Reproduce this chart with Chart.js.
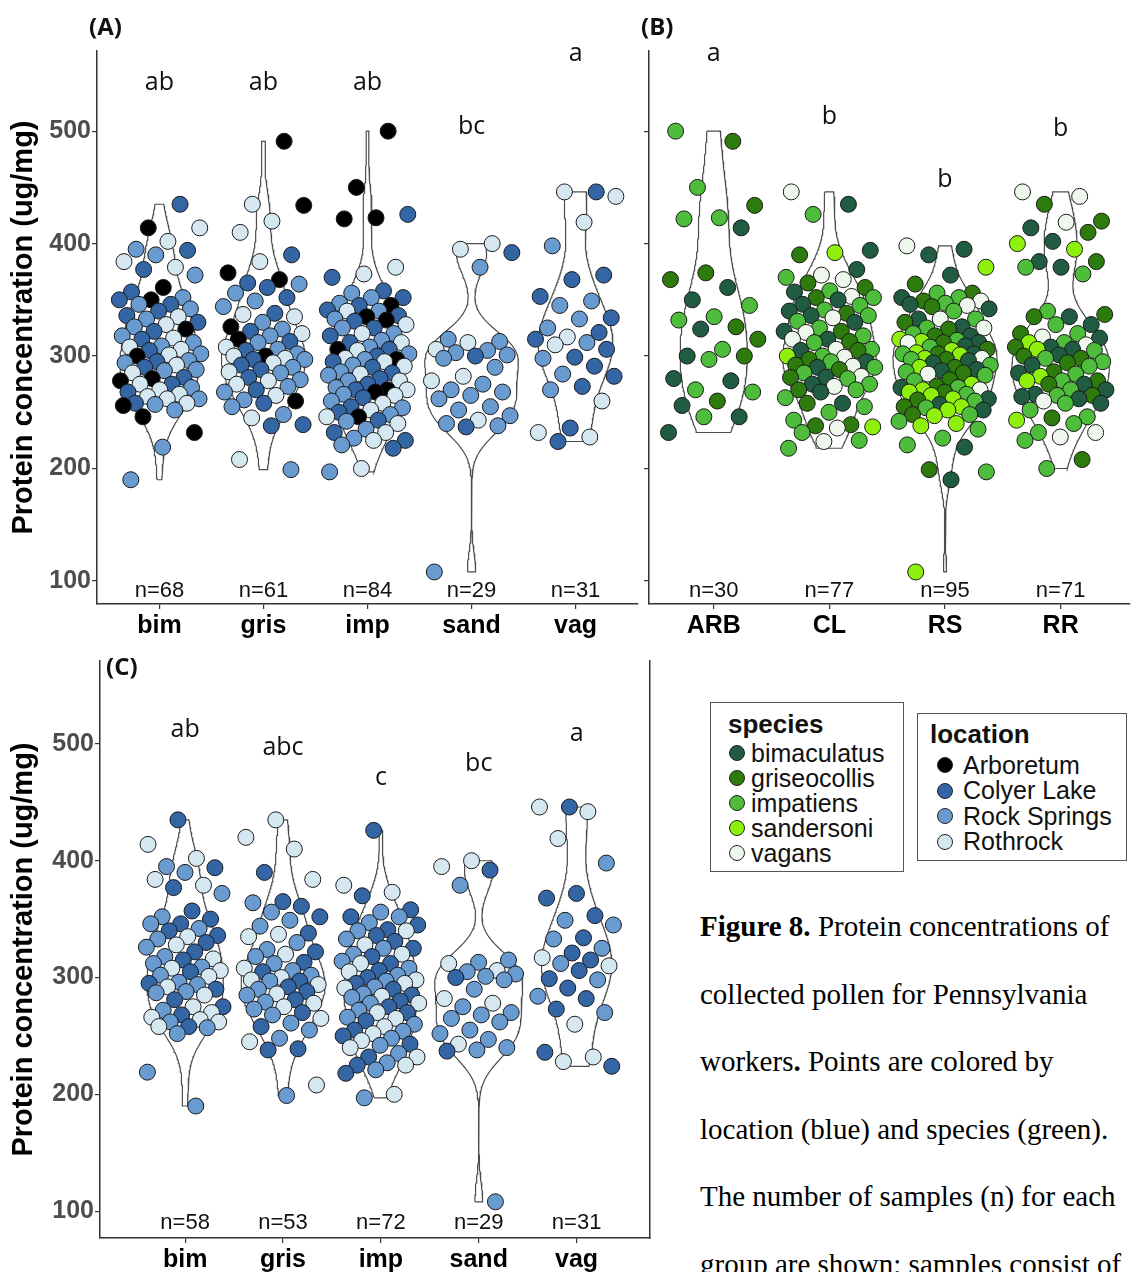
<!DOCTYPE html>
<html>
<head>
<meta charset="utf-8">
<title>Protein concentration of collected pollen</title>
<script src="https://cdn.jsdelivr.net/npm/chart.js@4.4.1/dist/chart.umd.min.js"></script>
<style>
  html, body { margin: 0; padding: 0; background: #fff; overflow: hidden; }
  body { width: 1139px; height: 1272px; position: relative; font-family: "Liberation Sans", Arial, sans-serif; }
  canvas { position: absolute; display: block; }
  .key { position: absolute; border: 1.5px solid #555; background: #fff; color: #111; }
  .key .title { position: absolute; font-weight: bold; font-size: 26px; line-height: 30px; }
  .key .row { position: absolute; font-size: 25px; line-height: 25px; white-space: nowrap; }
  .key .dot { position: absolute; width: 16px; height: 16px; border-radius: 50%; border: 1px solid #222; box-sizing: border-box; }
  #caption { position: absolute; left: 700px; top: 893px; font-family: "Liberation Serif", "Times New Roman", serif;
             font-size: 29px; line-height: 67.6px; white-space: nowrap; color: #000; }
</style>
</head>
<body>
<canvas id="panelA" width="647" height="645" style="left:0;top:0"></canvas>
<canvas id="panelB" width="499" height="645" style="left:640px;top:0"></canvas>
<canvas id="panelC" width="660" height="627" style="left:0;top:645px"></canvas>
<div id="speciesKey" class="key" style="left:710px;top:702px;width:192px;height:168px"></div>
<div id="siteKey" class="key" style="left:917px;top:713px;width:208px;height:146px"></div>
<div id="caption"><b>Figure 8.</b> Protein concentrations of<br>collected pollen for Pennsylvania<br>workers<b>.</b> Points are colored by<br>location (blue) and species (green).<br>The number of samples (n) for each<br>group are shown; samples consist of</div>

<script>
const speciesCodes = ['bim', 'gris', 'imp', 'sand', 'vag'];
const speciesNames = ['bimaculatus', 'griseocollis', 'impatiens', 'sandersoni', 'vagans'];
const speciesColors = ['#1f5c42', '#2e7b0d', '#4dbd3b', '#8ef00c', '#eef7ec'];
const siteCodes = ['ARB', 'CL', 'RS', 'RR'];
const siteNames = ['Arboretum', 'Colyer Lake', 'Rock Springs', 'Rothrock'];
const siteColors = ['#000000', '#3465a4', '#6a9bd0', '#d5e8f2'];

// protein (ug/mg) of each pollen load, by species and collection site
const bimARB = [414, 361, 350, 324, 300, 280, 278, 256, 246, 232];
const bimCL = [435, 394, 377, 357, 350, 346, 340, 336, 330, 322, 315, 305, 295, 290, 281, 275, 268, 258];
const bimRS = [395, 390, 372, 352, 346, 342, 333, 326, 318, 312, 309, 302, 296, 294, 288, 287, 272, 262, 257, 252, 219, 190];
const bimRR = [414, 402, 384, 379, 335, 328, 316, 308, 306, 301, 292, 285, 275, 270, 266, 264, 262, 258];

const grisARB = [491, 434, 374, 368, 326, 315, 300, 260];
const grisCL = [390, 365, 361, 352, 338, 322, 313, 305, 297, 292, 288, 281, 270, 258, 239, 238];
const grisRS = [364, 356, 349, 344, 330, 324, 318, 312, 306, 302, 297, 290, 285, 279, 273, 268, 261, 255, 248, 199];
const grisRR = [435, 420, 410, 384, 337, 335, 320, 308, 300, 298, 294, 286, 278, 275, 265, 245, 208];

const impARB = [500, 450, 423, 422, 345, 335, 332, 306, 297, 270, 268, 246];
const impCL = [426, 370, 358, 352, 345, 341, 336, 331, 325, 318, 312, 306, 300, 295, 290, 285, 280, 275, 270, 263, 255, 250, 243, 232, 225, 218];
const impRS = [356, 352, 347, 340, 333, 325, 320, 314, 308, 302, 297, 292, 286, 283, 278, 272, 266, 260, 254, 248, 242, 235, 227, 221, 197];
const impRR = [379, 373, 340, 328, 320, 312, 305, 298, 295, 291, 284, 278, 270, 265, 258, 252, 246, 240, 232, 225, 200];

const sandARB = [];
const sandCL = [392, 300, 237];
const sandRS = [379, 315, 313, 305, 303, 301, 298, 290, 275, 270, 268, 265, 262, 255, 252, 247, 240, 238, 108];
const sandRR = [400, 395, 312, 306, 282, 278, 243];

const vagARB = [];
const vagCL = [446, 372, 368, 353, 334, 321, 315, 306, 299, 291, 282, 273, 236, 224];
const vagRS = [398, 349, 345, 333, 325, 312, 298, 284, 270];
const vagRR = [446, 442, 419, 317, 310, 260, 232, 228];

// compact letter display from the pairwise tests, and the height they sit at
const lettersA = ['ab', 'ab', 'ab', 'bc', 'a'];
const lettersB = ['a', 'b', 'b', 'b'];
const lettersC = ['ab', 'abc', 'c', 'bc', 'a'];
const letterHeightA = [543, 543, 543, 504, 569];
const letterHeightB = [569, 513, 457, 502];
const letterHeightC = [512, 497, 471, 483, 509];

const yTicks = [100, 200, 300, 400, 500];

const proteinBySpecies = [
  [bimARB, bimCL, bimRS, bimRR],
  [grisARB, grisCL, grisRS, grisRR],
  [impARB, impCL, impRS, impRR],
  [sandARB, sandCL, sandRS, sandRR],
  [vagARB, vagCL, vagRS, vagRR]
];

const samples = [];
proteinBySpecies.forEach((row, s) => row.forEach((vals, l) => vals.forEach(v => {
  samples.push({ species: s, site: l, value: v });
})));

Chart.defaults.font.family = '"Liberation Sans", Arial, sans-serif';

// gaussian kernel density, same bandwidth rule as R's bw.nrd0, trimmed to the data range
function quantile(sorted, p) {
  const h = (sorted.length - 1) * p, lo = Math.floor(h);
  const hi = Math.min(lo + 1, sorted.length - 1);
  return sorted[lo] + (h - lo) * (sorted[hi] - sorted[lo]);
}
function bandwidth(v) {
  const n = v.length;
  const mean = v.reduce((a, b) => a + b, 0) / n;
  const sd = Math.sqrt(v.reduce((a, b) => a + (b - mean) ** 2, 0) / (n - 1));
  const s = [...v].sort((a, b) => a - b);
  let lo = Math.min(sd, (quantile(s, 0.75) - quantile(s, 0.25)) / 1.34);
  if (!lo) lo = sd || 1;
  return 0.9 * lo * Math.pow(n, -0.2);
}
function density(v, steps) {
  const bw = bandwidth(v);
  const lo = Math.min(...v), hi = Math.max(...v);
  const out = [];
  for (let i = 0; i <= steps; i++) {
    const y = lo + (hi - lo) * i / steps;
    let d = 0;
    for (const x of v) {
      const z = (y - x) / bw;
      d += Math.exp(-0.5 * z * z);
    }
    out.push({ y, d: d / (v.length * bw * Math.sqrt(2 * Math.PI)) });
  }
  return out;
}

// spread points sideways within +-0.4 of the group centre
function jitter(k, seed) {
  const f = ((k + 1) * 0.6180339887 + seed) % 1;
  return (f - 0.5) * 0.8;
}

const groupText = {
  id: 'groupText',
  afterDatasetsDraw(chart, args, o) {
    const { ctx, scales: { x, y } } = chart;
    ctx.save();
    ctx.fillStyle = '#111';
    ctx.textAlign = 'center';
    ctx.textBaseline = 'middle';
    ctx.font = '25px "Open Sans", sans-serif';
    o.letters.forEach((t, i) => ctx.fillText(t, x.getPixelForValue(i + 1), y.getPixelForValue(o.letterY[i])));
    ctx.font = '22px "Liberation Sans", Arial, sans-serif';
    o.counts.forEach((n, i) => ctx.fillText('n=' + n, x.getPixelForValue(i + 1), y.getPixelForValue(o.countY)));
    ctx.textAlign = 'left';
    ctx.font = 'bold 24px "Open Sans", sans-serif';
    ctx.fillText(o.tag, o.tagX, o.tagY);
    ctx.restore();
  }
};

function buildPanel(id, groups, names, o) {
  const curves = groups.map(g => density(g.map(p => p.v), 160));
  const peak = Math.max(...curves.flat().map(p => p.d));
  const datasets = [];
  curves.forEach((curve, i) => {
    const c = i + 1;
    const left = curve.map(p => ({ x: c - 0.45 * p.d / peak, y: p.y }));
    const right = curve.slice().reverse().map(p => ({ x: c + 0.45 * p.d / peak, y: p.y }));
    datasets.push({
      data: [...left, ...right, left[0]],
      showLine: true, pointRadius: 0, borderColor: '#4d4d4d', borderWidth: 1.2,
      fill: false, tension: 0, order: 2
    });
  });
  const pts = [], fills = [];
  groups.forEach((g, i) => {
    [...g].sort((a, b) => b.v - a.v).forEach((p, k) => {
      pts.push({ x: i + 1 + jitter(k, o.seed), y: p.v });
      fills.push(p.color);
    });
  });
  datasets.push({
    data: pts, backgroundColor: fills, borderColor: '#1a1a1a', borderWidth: 1,
    pointRadius: 8, pointHoverRadius: 8, order: 1
  });

  const scales = {
    x: {
      type: 'linear', min: o.xMin, max: o.xMax,
      afterBuildTicks: s => { s.ticks = names.map((_, i) => ({ value: i + 1 })); },
      afterFit: s => { s.height = o.xHeight; },
      grid: { drawOnChartArea: false, tickLength: 5, color: '#333', lineWidth: 1.2 },
      border: { color: '#333', width: 1.5 },
      ticks: {
        callback: v => names[Math.round(v) - 1], color: '#000', padding: 2,
        font: { size: 25, weight: 'bold' }, maxRotation: 0, autoSkip: false
      }
    },
    y: {
      type: 'linear', min: o.yMin, max: o.yMax,
      afterBuildTicks: s => { s.ticks = yTicks.map(v => ({ value: v })); },
      afterFit: s => { s.width = o.yWidth; },
      grid: { drawOnChartArea: false, tickLength: 5, color: '#333', lineWidth: 1.2 },
      border: { color: '#333', width: 1.5 },
      ticks: { display: o.yLabels, color: '#4d4d4d', padding: 1, font: { size: 25, weight: 'bold' } },
      title: {
        display: o.yLabels, text: 'Protein concentration (ug/mg)', color: '#000',
        font: { size: 29, weight: 'bold' }, padding: { top: 7, bottom: 0 }
      }
    }
  };
  if (o.frame) {
    scales.y2 = {
      position: 'right', display: true,
      grid: { display: false }, ticks: { display: false },
      border: { color: '#333', width: 1.5 },
      afterFit: s => { s.width = 0; }
    };
  }

  return new Chart(document.getElementById(id), {
    type: 'scatter',
    data: { datasets },
    options: {
      responsive: false,
      animation: false,
      events: [],
      layout: { padding: o.padding },
      plugins: {
        legend: { display: false },
        tooltip: { enabled: false },
        groupText: {
          letters: o.letters, letterY: o.letterY,
          counts: groups.map(g => g.length), countY: o.countY,
          tag: o.tag, tagX: o.tagX, tagY: o.tagY
        }
      },
      scales
    },
    plugins: [groupText]
  });
}

// (A) species, coloured by site
const bySpecies = speciesCodes.map((_, s) => samples.filter(p => p.species === s)
  .map(p => ({ v: p.value, color: siteColors[p.site] })));
buildPanel('panelA', bySpecies, speciesCodes, {
  xMin: 0.4, xMax: 5.6, yMin: 79.5, yMax: 571.3, xHeight: 41, yWidth: 97, yLabels: true,
  padding: { top: 51, right: 0, bottom: 0, left: 0 },
  letters: lettersA, letterY: letterHeightA, countY: 91,
  tag: '(A)', tagX: 89, tagY: 28, seed: 0.13
});

// (B) site, coloured by species
const bySite = siteCodes.map((_, l) => samples.filter(p => p.site === l)
  .map(p => ({ v: p.value, color: speciesColors[p.species] })));
buildPanel('panelB', bySite, siteCodes, {
  xMin: 0.44, xMax: 4.6, yMin: 79.5, yMax: 571.3, xHeight: 41, yWidth: 7, yLabels: false,
  padding: { top: 51, right: 2, bottom: 0, left: 0 },
  letters: lettersB, letterY: letterHeightB, countY: 91,
  tag: '(B)', tagX: 1, tagY: 28, seed: 0.47
});

// (C) species without the Arboretum samples
const bySpeciesNoArb = speciesCodes.map((_, s) => samples.filter(p => p.species === s && p.site !== 0)
  .map(p => ({ v: p.value, color: siteColors[p.site] })));
buildPanel('panelC', bySpeciesNoArb, speciesCodes, {
  xMin: 0.13, xMax: 5.75, yMin: 77, yMax: 571, xHeight: 34, yWidth: 100, yLabels: true, frame: true,
  padding: { top: 0, right: 10, bottom: 0, left: 0 },
  letters: lettersC, letterY: letterHeightC, countY: 90,
  tag: '(C)', tagX: 106, tagY: 23, seed: 0.79
});

// legend boxes
function buildKey(id, title, names, colors, k) {
  const box = document.getElementById(id);
  const t = document.createElement('div');
  t.className = 'title';
  t.textContent = title;
  t.style.left = k.titleX + 'px';
  t.style.top = k.titleY + 'px';
  box.appendChild(t);
  names.forEach((name, i) => {
    const row = document.createElement('div');
    row.className = 'row';
    row.style.top = (k.rowY + i * k.step - 12.5) + 'px';
    row.style.left = '0px';
    const dot = document.createElement('span');
    dot.className = 'dot';
    dot.style.background = colors[i];
    dot.style.left = k.dotX + 'px';
    dot.style.top = '4.5px';
    const label = document.createElement('span');
    label.textContent = name;
    label.style.position = 'absolute';
    label.style.left = k.textX + 'px';
    row.appendChild(dot);
    row.appendChild(label);
    box.appendChild(row);
  });
}
buildKey('speciesKey', 'species', speciesNames, speciesColors,
  { titleX: 17, titleY: 6, rowY: 50, step: 25, dotX: 18, textX: 40 });
buildKey('siteKey', 'location', siteNames, siteColors,
  { titleX: 12, titleY: 5, rowY: 51, step: 25.5, dotX: 19, textX: 45 });
</script>
</body>
</html>
